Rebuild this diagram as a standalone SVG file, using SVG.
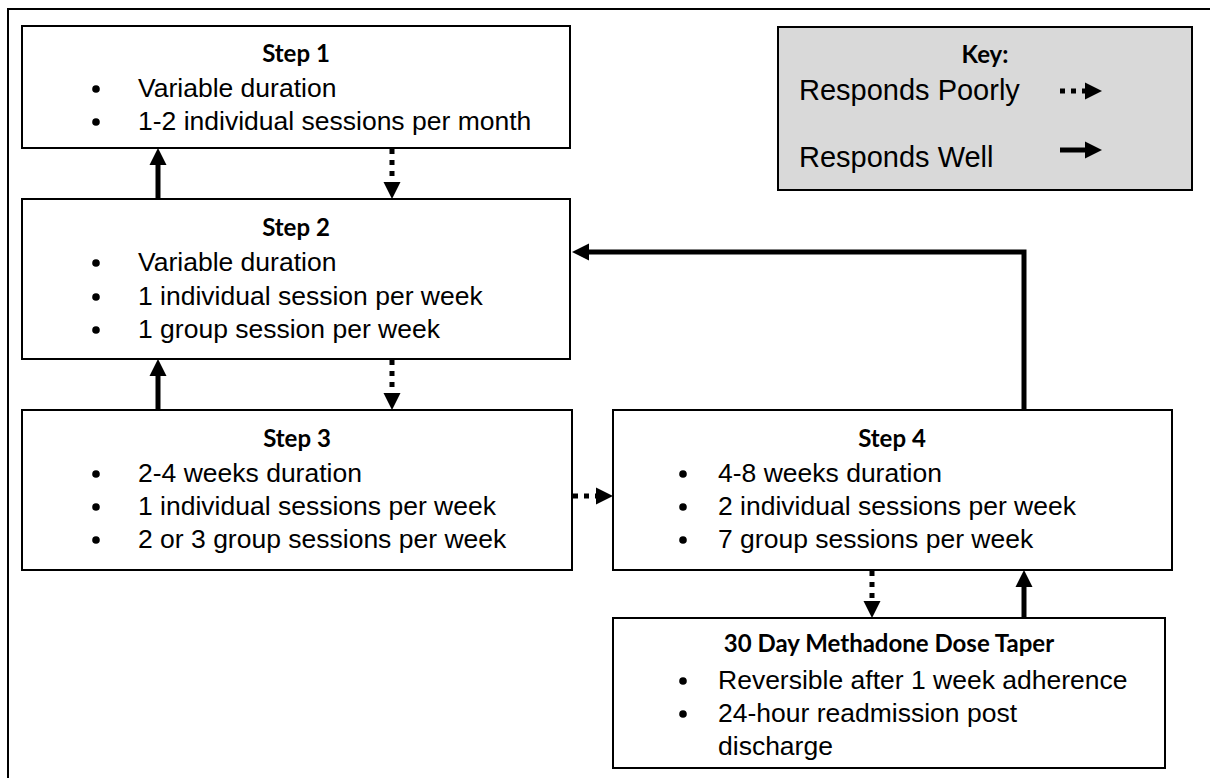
<svg xmlns="http://www.w3.org/2000/svg" width="1210" height="778" viewBox="0 0 1210 778">
<defs>
<marker id="head" markerUnits="userSpaceOnUse" markerWidth="17" markerHeight="17" viewBox="0 -8.5 17 17" refX="0" refY="0" orient="auto" overflow="visible">
<path d="M0,-8.5 L17,0 L0,8.5 Z" fill="#000"/>
</marker>
</defs>
<style>
.box{fill:#fff;stroke:#000;stroke-width:2}
.key{fill:#d9d9d9;stroke:#000;stroke-width:2}
.t{font-family:"Liberation Sans",Arial,sans-serif;font-size:26.5px;fill:#000}
.k{font-family:"Liberation Sans",Arial,sans-serif;font-size:29px;fill:#000}
.h{font-family:Lato,"Open Sans",sans-serif;font-weight:bold;font-size:24px;fill:#000;text-anchor:middle}
.b{fill:#000}
.well{fill:none;stroke:#000;stroke-width:5;marker-end:url(#head)}
.poor{fill:none;stroke:#000;stroke-width:5;stroke-dasharray:5 6;marker-end:url(#head)}
</style>
<rect width="1210" height="778" fill="#fff"/>
<path d="M8,778 V9 H1210" fill="none" stroke="#000" stroke-width="2"/>

<g id="step1">
<rect class="box" x="22" y="26" width="548" height="122"/>
<text class="h" x="296" y="62">Step 1</text>
<circle class="b" cx="96" cy="89" r="3.8"/><text class="t" x="138" y="97">Variable duration</text>
<circle class="b" cx="96" cy="122" r="3.8"/><text class="t" x="138" y="130">1-2 individual sessions per month</text>
</g>

<g id="step2">
<rect class="box" x="22" y="199" width="548" height="160"/>
<text class="h" x="296" y="236">Step 2</text>
<circle class="b" cx="96" cy="263" r="3.8"/><text class="t" x="138" y="271">Variable duration</text>
<circle class="b" cx="96" cy="297" r="3.8"/><text class="t" x="138" y="305">1 individual session per week</text>
<circle class="b" cx="96" cy="330" r="3.8"/><text class="t" x="138" y="338">1 group session per week</text>
</g>

<g id="step3">
<rect class="box" x="22" y="410" width="550" height="160"/>
<text class="h" x="297" y="447">Step 3</text>
<circle class="b" cx="96" cy="474" r="3.8"/><text class="t" x="138" y="482">2-4 weeks duration</text>
<circle class="b" cx="96" cy="507" r="3.8"/><text class="t" x="138" y="515">1 individual sessions per week</text>
<circle class="b" cx="96" cy="540" r="3.8"/><text class="t" x="138" y="548">2 or 3 group sessions per week</text>
</g>

<g id="step4">
<rect class="box" x="613" y="410" width="559" height="160"/>
<text class="h" x="892" y="447">Step 4</text>
<circle class="b" cx="683" cy="474" r="3.8"/><text class="t" x="718" y="482">4-8 weeks duration</text>
<circle class="b" cx="683" cy="507" r="3.8"/><text class="t" x="718" y="515">2 individual sessions per week</text>
<circle class="b" cx="683" cy="540" r="3.8"/><text class="t" x="718" y="548">7 group sessions per week</text>
</g>

<g id="taper">
<rect class="box" x="613" y="618" width="552" height="150"/>
<text class="h" x="889" y="652">30 Day Methadone Dose Taper</text>
<circle class="b" cx="683" cy="681" r="3.8"/><text class="t" x="718" y="689">Reversible after 1 week adherence</text>
<circle class="b" cx="683" cy="714" r="3.8"/><text class="t" x="718" y="722">24-hour readmission post</text>
<text class="t" x="718" y="755">discharge</text>
</g>

<g id="key">
<rect class="key" x="778" y="27" width="414" height="163"/>
<text class="h" x="985" y="63">Key:</text>
<text class="k" x="799" y="100">Responds Poorly</text>
<text class="k" x="799" y="167">Responds Well</text>
<path class="poor" d="M1060,91 H1085" stroke-width="6" stroke-dasharray="6 7"/>
<path class="well" d="M1060,150 H1085" stroke-width="6"/>
</g>

<g id="connectors">
<path class="well" d="M158,199 V165"/>
<path class="poor" d="M392,149 V182"/>
<path class="well" d="M158,410 V376"/>
<path class="poor" d="M392,360 V393"/>
<path class="poor" d="M573,496 H596"/>
<path class="well" d="M1024,410 V252 H589"/>
<path class="poor" d="M872,571 V601"/>
<path class="well" d="M1024,618 V587"/>
</g>
</svg>
